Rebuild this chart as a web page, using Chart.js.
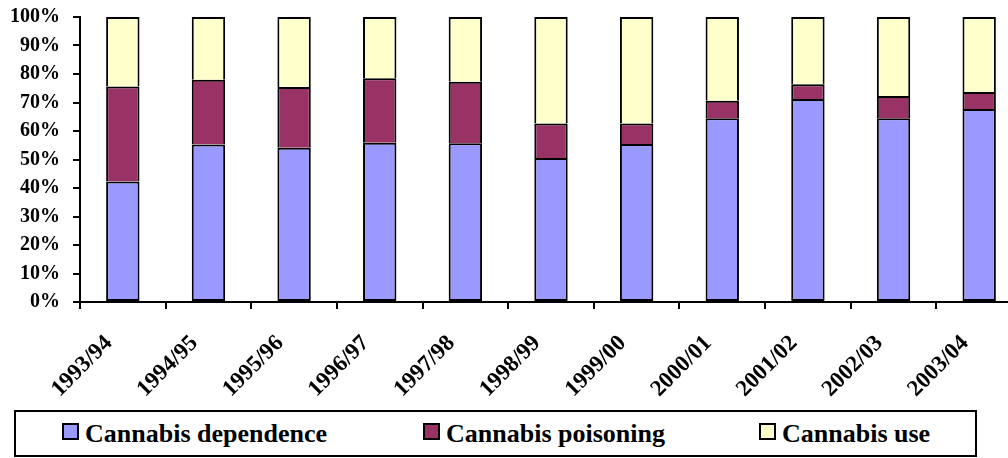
<!DOCTYPE html>
<html>
<head>
<meta charset="utf-8">
<script src="https://cdn.jsdelivr.net/npm/chart.js@4"></script>
<style>
  html, body { margin: 0; padding: 0; background: #fff; overflow: hidden; width: 1008px; height: 458px; }
  #wrap { position: absolute; left: 0; top: 0; width: 1022px; height: 410px; }
  #legend { position: absolute; left: 14px; top: 410px; width: 959px; height: 43px; border: 2px solid #000; box-sizing: content-box;
            font-family: "Liberation Serif", "DejaVu Serif", serif; font-weight: bold; font-size: 26px; color: #000; }
  .item { position: absolute; top: 0; height: 43px; line-height: 43px; white-space: nowrap; }
  .sw { position: absolute; left: 0; top: 11px; width: 13px; height: 13px; border: 2px solid #000; }
  .lbl { position: absolute; left: 23px; top: 0; }
</style>
</head>
<body>
<div id="wrap"><canvas id="c" width="1022" height="410"></canvas></div>
<div id="legend"></div>
<script>
const categories = ["1993/94","1994/95","1995/96","1996/97","1997/98","1998/99","1999/00","2000/01","2001/02","2002/03","2003/04"];
const seriesNames = ["Cannabis dependence","Cannabis poisoning","Cannabis use"];
const dependence = [42.3, 55.3, 54.1, 55.9, 55.7, 50.5, 55.4, 64.5, 71.2, 64.5, 67.7];
const poisoning  = [33.3, 22.7, 21.3, 22.6, 21.6, 12.1, 7.2, 6.1, 5.2, 7.8, 6.0];
const use        = [24.4, 22.0, 24.6, 21.5, 22.7, 37.4, 37.4, 29.4, 23.6, 27.7, 26.3];
const yTicks = [0,10,20,30,40,50,60,70,80,90,100];
const colors = ["#9999FF","#993366","#FFFFCC"];
const legendX = [46, 407, 743];

const seriesData = [dependence, poisoning, use];
const borders = [
  { top: 2, bottom: 2, left: 2, right: 2 },
  { top: 2, bottom: 0, left: 2, right: 2 },
  { top: 2, bottom: 0, left: 2, right: 2 }
];
const font = "'Liberation Serif', 'DejaVu Serif', serif";

new Chart(document.getElementById('c'), {
  type: 'bar',
  data: {
    labels: categories,
    datasets: seriesNames.map((n, i) => ({
      label: n,
      data: seriesData[i],
      backgroundColor: colors[i],
      borderColor: '#000',
      borderWidth: borders[i],
      borderSkipped: false,
      barPercentage: 0.39,
      categoryPercentage: 1.0
    }))
  },
  options: {
    responsive: false,
    animation: false,
    devicePixelRatio: 1,
    layout: { padding: { top: 17, left: 0, right: 0, bottom: 0 } },
    plugins: { legend: { display: false }, tooltip: { enabled: false } },
    scales: {
      x: {
        stacked: true,
        offset: true,
        grid: { offset: true, drawOnChartArea: false, tickLength: 7, color: '#000', lineWidth: 2 },
        border: { color: '#000', width: 2 },
        ticks: { color: '#000', font: { family: font, weight: 'bold', size: 23 }, minRotation: 45, maxRotation: 45, padding: 21, labelOffset: -14, autoSkip: false },
        afterFit: (s) => { s.height = 108; }
      },
      y: {
        stacked: true,
        min: 0, max: 100,
        afterBuildTicks: (s) => { s.ticks = yTicks.map(v => ({ value: v })); },
        grid: { drawOnChartArea: false, tickLength: 7, color: '#000', lineWidth: 2 },
        border: { color: '#000', width: 2 },
        ticks: { color: '#000', font: { family: font, weight: 'bold', size: 20, lineHeight: 0.3 }, padding: 13, callback: (v) => v + '%' },
        afterFit: (s) => { s.width = 80; }
      }
    }
  }
});

const lg = document.getElementById('legend');
seriesNames.forEach((n, i) => {
  const it = document.createElement('div');
  it.className = 'item';
  it.style.left = legendX[i] + 'px';
  const sw = document.createElement('div');
  sw.className = 'sw';
  sw.style.background = colors[i];
  const lb = document.createElement('span');
  lb.className = 'lbl';
  lb.textContent = n;
  it.appendChild(sw); it.appendChild(lb);
  lg.appendChild(it);
});
</script>
</body>
</html>
